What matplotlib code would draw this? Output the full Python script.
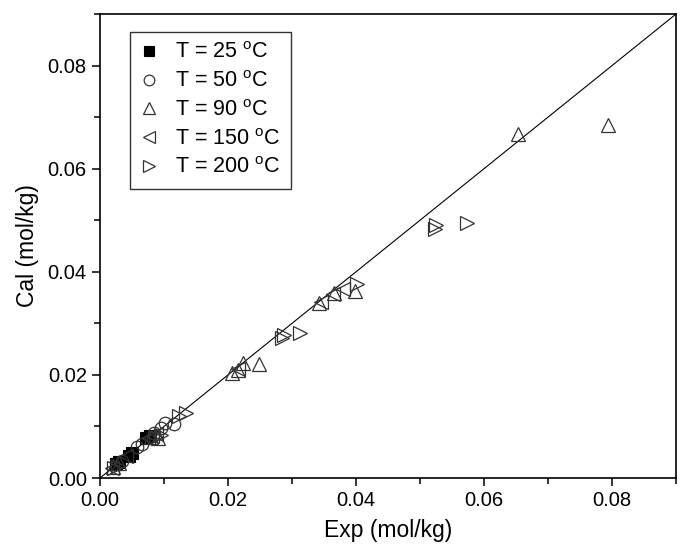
import numpy as np
import matplotlib
matplotlib.use("Agg")
import matplotlib.pyplot as plt
from matplotlib.ticker import MultipleLocator

plt.rcParams['font.family'] = ['Liberation Sans', 'DejaVu Sans']
plt.rcParams['mathtext.default'] = 'regular'

# T = 25 C (filled squares)
x25 = [0.0025, 0.0030, 0.0045, 0.0050, 0.0072, 0.0078]
y25 = [0.0027, 0.0031, 0.0043, 0.0049, 0.0078, 0.0081]

# T = 50 C (circles)
x50 = [0.0035, 0.0058, 0.0065, 0.0085, 0.0095, 0.0102, 0.0115]
y50 = [0.0033, 0.0060, 0.0066, 0.0088, 0.0097, 0.0106, 0.0104]

# T = 90 C (up triangles)
x90 = [0.0020, 0.0030, 0.0080, 0.0090, 0.0206, 0.0216, 0.0224, 0.0248,
       0.0342, 0.0365, 0.0398, 0.0653, 0.0793]
y90 = [0.0022, 0.0030, 0.0079, 0.0077, 0.0204, 0.0210, 0.0223, 0.0222,
       0.0340, 0.0358, 0.0362, 0.0668, 0.0685]

# T = 150 C (left triangles)
x150 = [0.0018, 0.0040, 0.0075, 0.0082, 0.0088, 0.0215, 0.0345, 0.0364, 0.0380]
y150 = [0.0020, 0.0042, 0.0077, 0.0082, 0.0086, 0.0212, 0.0342, 0.0357, 0.0367]

# T = 200 C (right triangles)
x200 = [0.0022, 0.0028, 0.0088, 0.0095, 0.0124, 0.0134, 0.0285, 0.0288,
        0.0312, 0.0402, 0.0523, 0.0525, 0.0574]
y200 = [0.0020, 0.0024, 0.0080, 0.0084, 0.0120, 0.0127, 0.0272, 0.0278,
        0.0281, 0.0376, 0.0483, 0.0490, 0.0495]

labels = ['T = 25 $^{o}$C', 'T = 50 $^{o}$C', 'T = 90 $^{o}$C',
          'T = 150 $^{o}$C', 'T = 200 $^{o}$C']

fig = plt.figure(figsize=(6.83, 5.5), dpi=100)
ax = fig.add_axes([0.1464, 0.1309, 0.8434, 0.8436])

ec = '#333333'
# 1:1 line
ax.plot([0, 0.09], [0, 0.09], color='black', lw=0.8, zorder=1)
ax.plot(x25, y25, 's', ms=8, mfc='black', mec='black', mew=0.8, ls='none', label=labels[0])
ax.plot(x50, y50, 'o', ms=9, mfc='none', mec=ec, mew=0.9, ls='none', label=labels[1])
ax.plot(x90, y90, '^', ms=10, mfc='none', mec=ec, mew=0.9, ls='none', label=labels[2])
ax.plot(x150, y150, '<', ms=10, mfc='none', mec=ec, mew=0.9, ls='none', label=labels[3])
ax.plot(x200, y200, '>', ms=10, mfc='none', mec=ec, mew=0.9, ls='none', label=labels[4])

ax.set_xlim(0, 0.09)
ax.set_ylim(0, 0.09)
ax.xaxis.set_major_locator(MultipleLocator(0.02))
ax.xaxis.set_minor_locator(MultipleLocator(0.01))
ax.yaxis.set_major_locator(MultipleLocator(0.02))
ax.yaxis.set_minor_locator(MultipleLocator(0.01))
ax.xaxis.set_major_formatter(plt.FormatStrFormatter('%.2f'))
ax.yaxis.set_major_formatter(plt.FormatStrFormatter('%.2f'))
ax.tick_params(which='major', direction='out', length=6, width=1.1, labelsize=14.5)
ax.tick_params(which='minor', direction='out', length=4, width=1.1)
for s in ax.spines.values():
    s.set_linewidth(1.2)

ax.set_xlabel('Exp (mol/kg)', fontsize=16.5, labelpad=6)
ax.set_ylabel('Cal (mol/kg)', fontsize=16.5, labelpad=6)

leg = ax.legend(loc='upper left', bbox_to_anchor=(0.052, 0.962), fontsize=15.5,
                frameon=True, fancybox=False, edgecolor='black',
                handlelength=0.8, handletextpad=0.8, labelspacing=0.36,
                borderpad=0.5, borderaxespad=0, markerscale=0.85)
leg.get_frame().set_linewidth(1.0)

fig.savefig('out.png', dpi=100)
